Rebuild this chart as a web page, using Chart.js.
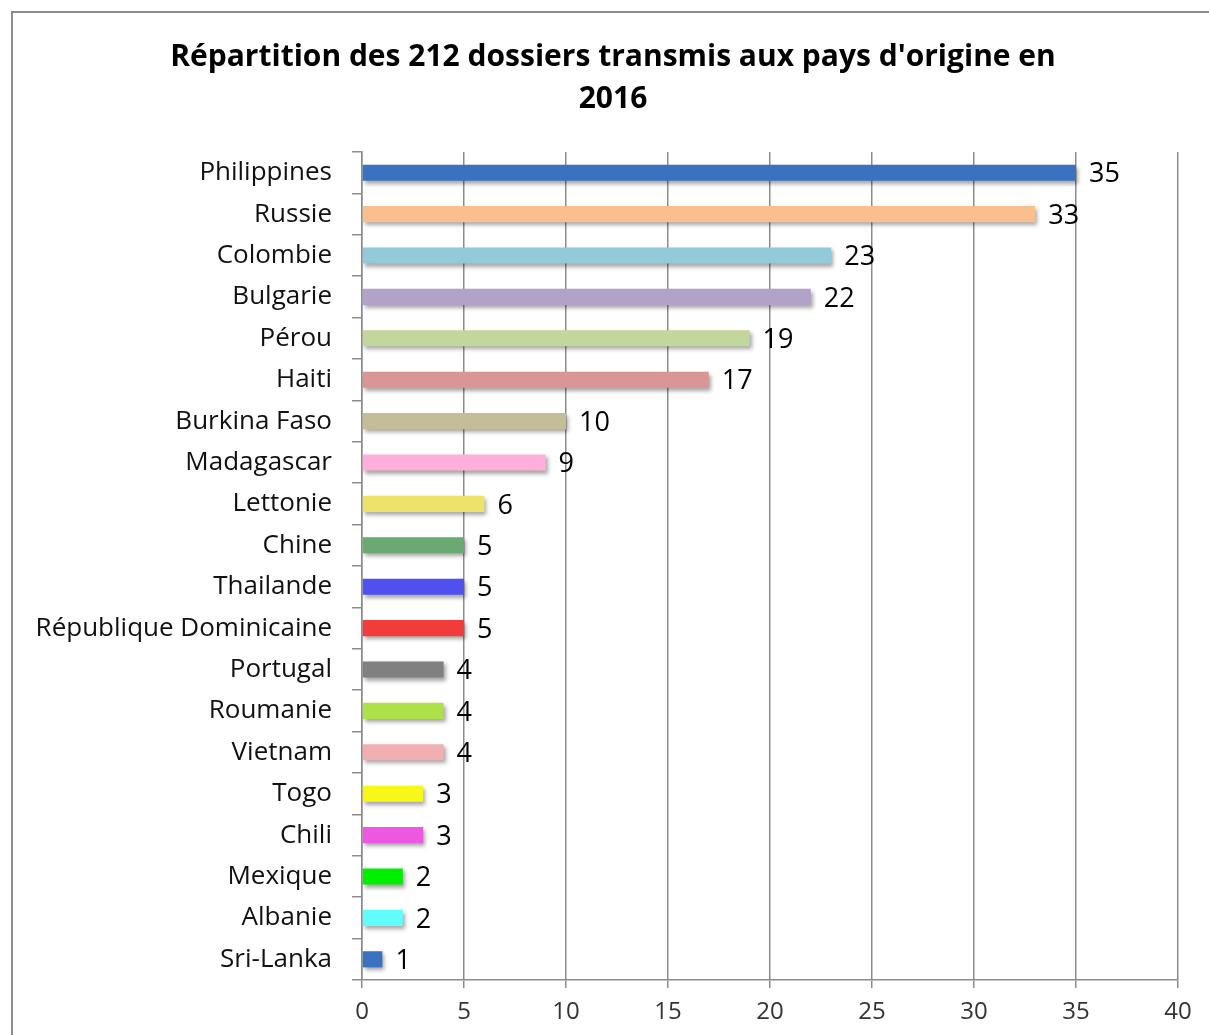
<!DOCTYPE html>
<html>
<head>
<meta charset="utf-8">
<script src="https://cdn.jsdelivr.net/npm/chart.js@4"></script>
<style>
    body { margin: 0; background: #fff; }
    #frame { position: absolute; left: 11px; top: 11px; width: 1300px; height: 1100px; border: 2px solid #8c8c8c; }
    #wrap { position: absolute; left: 0; top: 0; width: 1209px; height: 1035px; }
</style>
</head>
<body>
<div id="frame"></div>
<div id="wrap"><canvas id="chart" width="1209" height="1035"></canvas></div>
<script>
const countries = ['Philippines', 'Russie', 'Colombie', 'Bulgarie', 'Pérou', 'Haiti', 'Burkina Faso',
    'Madagascar', 'Lettonie', 'Chine', 'Thailande', 'République Dominicaine', 'Portugal', 'Roumanie',
    'Vietnam', 'Togo', 'Chili', 'Mexique', 'Albanie', 'Sri-Lanka'];
const dossiers = [35, 33, 23, 22, 19, 17, 10, 9, 6, 5, 5, 5, 4, 4, 4, 3, 3, 2, 2, 1];
const barColors = ['#3a72c0', '#f9bf8f', '#93cadb', '#b3a2c7', '#c3d69b', '#d99694', '#c4bd97',
    '#fdb0dc', '#ede36a', '#6aaa72', '#5050ee', '#f23b3b', '#808080', '#aee04a',
    '#f2afaf', '#f8f818', '#ec59e0', '#00ee00', '#5ffdfd', '#3a72c0'];
const xTicks = [0, 5, 10, 15, 20, 25, 30, 35, 40];
const titleLines = ["Répartition des 212 dossiers transmis aux pays d'origine en", '2016'];

const fontFamily = '"Open Sans", sans-serif';

// title drawn by hand so it can sit centred on the whole frame
const titlePlugin = {
    id: 'frameTitle',
    afterDraw(chart) {
        const ctx = chart.ctx;
        ctx.save();
        ctx.font = 'bold 30px ' + fontFamily;
        ctx.fillStyle = '#000';
        ctx.textAlign = 'center';
        ctx.textBaseline = 'middle';
        titleLines.forEach((line, i) => {
            ctx.fillText(line, 613, 57 + i * 42);
        });
        ctx.restore();
    }
};

// soft drop shadow under the bars, like the spreadsheet export
const shadowPlugin = {
    id: 'barShadow',
    beforeDatasetsDraw(chart) {
        const ctx = chart.ctx;
        ctx.save();
        ctx.shadowColor = 'rgba(0, 0, 0, 0.35)';
        ctx.shadowBlur = 4;
        ctx.shadowOffsetX = 2;
        ctx.shadowOffsetY = 3;
    },
    afterDatasetsDraw(chart) {
        chart.ctx.restore();
    }
};

const valueLabels = {
    id: 'valueLabels',
    afterDatasetsDraw(chart) {
        const ctx = chart.ctx;
        const meta = chart.getDatasetMeta(0);
        ctx.save();
        ctx.font = '27px ' + fontFamily;
        ctx.fillStyle = '#000';
        ctx.textAlign = 'left';
        ctx.textBaseline = 'middle';
        meta.data.forEach((bar, i) => {
            ctx.fillText(dossiers[i], bar.x + 13, bar.y + 2);
        });
        ctx.restore();
    }
};

const ctx = document.getElementById('chart').getContext('2d');
new Chart(ctx, {
    type: 'bar',
    data: {
        labels: countries,
        datasets: [{
            data: dossiers,
            backgroundColor: barColors,
            borderWidth: 0,
            categoryPercentage: 1,
            barPercentage: 0.39
        }]
    },
    options: {
        indexAxis: 'y',
        responsive: false,
        animation: false,
        layout: { padding: { left: 0, right: 31, top: 152, bottom: 0 } },
        plugins: {
            legend: { display: false },
            tooltip: { enabled: false },
            title: { display: false }
        },
        scales: {
            x: {
                min: 0,
                max: 40,
                afterBuildTicks: scale => { scale.ticks = xTicks.map(v => ({ value: v })); },
                afterFit: scale => { scale.height = 55; },
                grid: { color: '#8c8c8c', lineWidth: 1.5, tickLength: 8 },
                border: { color: '#8c8c8c', width: 1.5 },
                ticks: {
                    color: '#333',
                    padding: 10,
                    font: { family: fontFamily, size: 24 }
                }
            },
            y: {
                afterFit: scale => { scale.width = 362; },
                grid: { drawOnChartArea: false, color: '#8c8c8c', lineWidth: 1.5, tickLength: 10 },
                border: { color: '#8c8c8c', width: 1.5 },
                ticks: {
                    color: '#111',
                    padding: 20,
                    font: { family: fontFamily, size: 26 }
                }
            }
        }
    },
    plugins: [titlePlugin, shadowPlugin, valueLabels]
});
</script>
</body>
</html>
